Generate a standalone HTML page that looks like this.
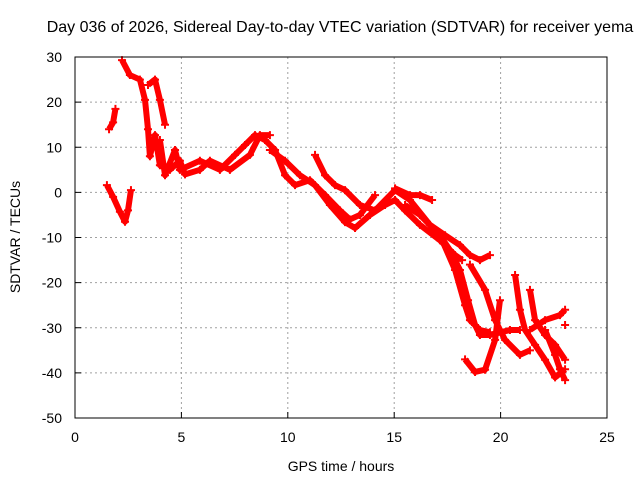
<!DOCTYPE html>
<html><head><meta charset="utf-8"><style>
body{margin:0;background:#fff}
svg text{font-family:"Liberation Sans",sans-serif;font-size:14px;fill:#000}
</style></head><body>
<svg id="chart" width="640" height="480">
<text x="340" y="32" text-anchor="middle" style="font-size:16px">Day 036 of 2026, Sidereal Day-to-day VTEC variation (SDTVAR) for receiver yema</text>
<text x="341" y="471" text-anchor="middle">GPS time / hours</text>
<text x="20" y="237" text-anchor="middle" transform="rotate(-90 20 237)">SDTVAR / TECUs</text>
<g id="grid"></g><g id="ticks"></g><g id="marks"></g>
<rect x="75" y="57" width="532" height="361" fill="none" stroke="#000" stroke-width="1"/>
</svg>
<script>
const xTicks=[0,5,10,15,20,25];
const yTicks=[30,20,10,0,-10,-20,-30,-40,-50];
const trackA=[[1.5,1.6],[1.79,-1],[2.11,-4.3],[2.35,-6.5],[2.49,-4],[2.63,0.5]];
const trackB=[[1.6,14],[1.79,15.5],[1.9,18.5]];
const trackC=[[2.21,29.3],[2.58,26],[3.05,25],[3.29,20.5],[3.43,14],[3.52,8],[3.76,12.7],[3.99,6],[4.46,5],[4.93,7],[5.17,4],[5.87,5],[6.34,7],[7.28,5],[8.22,8.3],[8.69,12.7],[9.16,12.7]];
const trackD=[[3.43,23.8],[3.76,25],[3.99,20.5],[4.23,15]];
const trackE=[[3.99,11.6],[4.23,3.8],[4.7,9.4],[4.93,5],[5.87,7],[6.81,5],[7.52,8.3],[7.99,10.5],[8.46,12.7],[8.93,11.6],[9.4,9.4],[9.87,3.8],[10.34,1.6],[11.04,2.7],[11.75,-0.6],[12.45,-4],[12.92,-6],[13.39,-5],[14.1,-0.6]];
const trackF=[[9.16,9.4],[9.87,7],[10.57,3.8],[11.28,1.6],[11.98,-2.8],[12.69,-6.6],[13.16,-7.9],[13.86,-5],[14.57,-2.8],[15.04,-1.7],[15.51,-4],[16.21,-7.2],[17.15,-10.6],[17.86,-13.9],[18.19,-15]];
const trackG=[[11.28,8.3],[11.75,3.8],[12.22,1.6],[12.69,0.5],[13.39,-2.8],[14.1,-4],[15.04,0.5],[15.74,-1.7],[16.68,-7.2],[17.39,-9.5],[18.09,-11.7],[18.56,-13.9],[19.03,-15],[19.5,-13.9]];
const trackH=[[15.04,0.9],[15.74,-0.6],[16.21,-0.6],[16.78,-1.7]];
const trackI=[[15.51,-2.8],[16.21,-5],[17.15,-9.5],[17.62,-12.8],[18.09,-17.2],[18.47,-23.9],[18.8,-29.4],[19.03,-31.6],[19.5,-31.6],[20.44,-30.5],[20.91,-30.5]];
const trackJ=[[17.15,-9.5],[17.86,-17.2],[18.33,-25],[18.56,-28.3],[19.03,-30.5],[19.5,-31]];
const trackK=[[18.33,-37],[18.8,-39.8],[19.27,-39.3],[19.74,-32.7],[19.97,-23.9]];
const trackL=[[18.56,-16],[19.27,-21.6],[19.74,-28.3],[20.21,-32.7],[20.91,-36],[21.38,-35]];
const trackM=[[20.68,-18.3],[20.91,-26],[21.15,-30.5],[21.62,-33.8],[22.09,-37.1],[22.56,-41],[23.03,-39.2]];
const trackN=[[21.38,-21.6],[21.62,-28.3],[22.09,-31.6],[22.56,-33.8],[23.03,-37.1]];
const trackO=[[21.38,-30.5],[22.09,-28.3],[22.79,-27.2],[23.03,-26]];
const trackP=[[22.09,-30.5],[22.56,-36],[22.79,-39.2],[23.03,-41.6]];
const trackQ=[[23.03,-29.4]];
const tracks=[trackA,trackB,trackC,trackD,trackE,trackF,trackG,trackH,trackI,trackJ,trackK,trackL,trackM,trackN,trackO,trackP,trackQ];
const X=t=>75+t*532/25, Y=v=>57+(30-v)*361/80;
const NS="http://www.w3.org/2000/svg";
const grid=document.getElementById('grid'),ticks=document.getElementById('ticks'),marks=document.getElementById('marks');
function mk(tag,at,parent){const e=document.createElementNS(NS,tag);for(const k in at)e.setAttribute(k,at[k]);parent.appendChild(e);return e;}
xTicks.forEach(t=>{const x=X(t);
 if(t>0&&t<25){const g=mk('line',{x1:x,x2:x,y1:57,y2:418,stroke:'#a0a0a0','stroke-dasharray':'2,3'},grid);
 
 }
 const a=mk('line',{x1:x,x2:x,y1:418,y2:412,stroke:'#000'},ticks);
 
 
 const l=mk('text',{x:x,y:442,'text-anchor':'middle'},ticks);l.textContent=t;
 
 });
yTicks.forEach(v=>{const y=Y(v);
 if(v<30&&v>-50){const g=mk('line',{x1:75,x2:607,y1:y,y2:y,stroke:'#a0a0a0','stroke-dasharray':'2,3'},grid);
 
 }
 const a=mk('line',{x1:75,x2:81,y1:y,y2:y,stroke:'#000'},ticks);
 
 
 const l=mk('text',{x:62,y:y+5,'text-anchor':'end'},ticks);l.textContent=v;
 
 });
tracks.forEach(tr=>{
 if(tr.length>1){const p=mk('polyline',{points:tr.map(d=>X(d[0])+','+Y(d[1])).join(' '),fill:'none',stroke:'#f00','stroke-width':6,'stroke-linejoin':'round'},marks);
 
 }
 tr.forEach(d=>{const x=X(d[0]),y=Y(d[1]);
  const m=mk('path',{d:`M${x-4},${y}H${x+4}M${x},${y-4}V${y+4}`,stroke:'#f00','stroke-width':2},marks);
  
  });
});
</script>
</body></html>
